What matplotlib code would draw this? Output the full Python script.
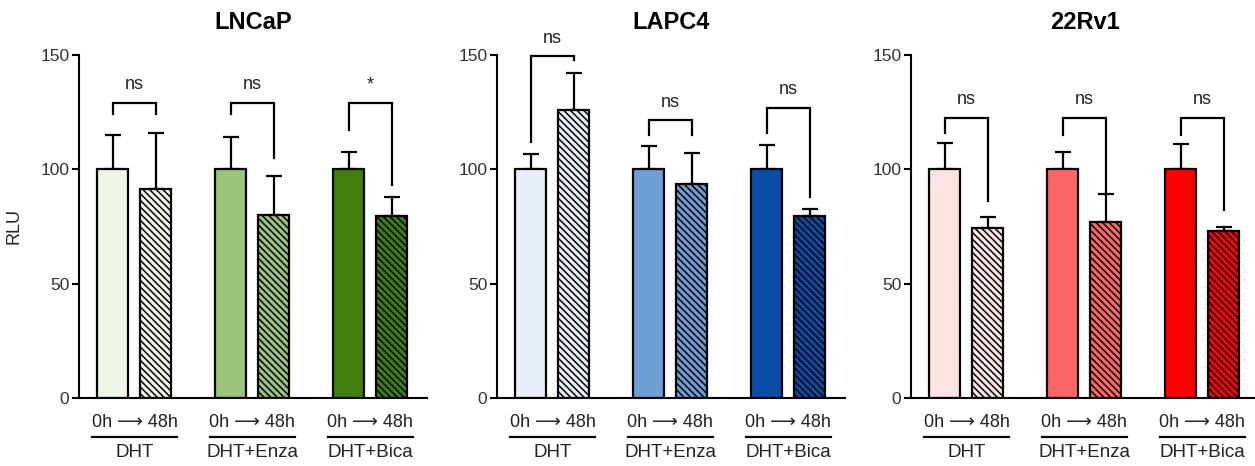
import matplotlib
matplotlib.use("Agg")
import matplotlib.pyplot as plt
import matplotlib.transforms as mtransforms

plt.rcParams['font.family'] = ['Liberation Sans', 'DejaVu Sans']
plt.rcParams['hatch.linewidth'] = 1.1

# data
panels = ["LNCaP", "LAPC4", "22Rv1"]
groups = ["DHT", "DHT+Enza", "DHT+Bica"]
time_label = "0h \u27f6 48h"

means_lncap = [100, 91.5, 100, 80, 100, 79.5]
err_lncap = [15, 24.5, 14, 17, 7.5, 8.5]
means_lapc4 = [100, 126, 100, 93.5, 100, 79.5]
err_lapc4 = [6.5, 16, 10, 13.5, 10.5, 3]
means_22rv1 = [100, 74.5, 100, 77, 100, 73]
err_22rv1 = [11.5, 4.5, 7.5, 12, 11, 2]

# bracket: top, left leg end, right leg end, label
brackets_lncap = [(129, 124, 124, "ns"), (129, 124, 105, "ns"), (129, 117, 93, "*")]
brackets_lapc4 = [(149.5, 112, 148, "ns"), (121.5, 115, 115, "ns"), (127, 116, 88, "ns")]
brackets_22rv1 = [(122.5, 116, 86, "ns"), (122.5, 115, 90, "ns"), (122.5, 115, 82, "ns")]

colors_lncap = ["#eff5e9", "#9bc47a", "#3f7e0b"]
colors_lapc4 = ["#e8eff9", "#6d9fd6", "#0b4ca6"]
colors_22rv1 = ["#fde4e4", "#fe6666", "#ff0000"]

all_means = [means_lncap, means_lapc4, means_22rv1]
all_err = [err_lncap, err_lapc4, err_22rv1]
all_brackets = [brackets_lncap, brackets_lapc4, brackets_22rv1]
all_colors = [colors_lncap, colors_lapc4, colors_22rv1]

W, H = 1255, 466
fig = plt.figure(figsize=(W / 100, H / 100), dpi=100)

ax_left_px = [79, 497, 911]
ax_w_px = 348
ax_bottom_px = 398
ax_h_px = 343

offset = 0.182
bw = 0.263

for p in range(3):
    ax = fig.add_axes([ax_left_px[p] / W, (H - ax_bottom_px) / H, ax_w_px / W, ax_h_px / H])
    means = all_means[p]
    errs = all_err[p]
    cols = all_colors[p]

    for g in range(3):
        for k in range(2):
            i = 2 * g + k
            x = g + (offset if k else -offset)
            ax.bar(x, means[i], width=bw, color=cols[g], edgecolor="black",
                   linewidth=1.6, hatch="\\\\\\\\\\" if k else None, zorder=2)
            ax.errorbar(x, means[i], yerr=[[0], [errs[i]]], fmt="none", ecolor="black",
                        elinewidth=1.6, capsize=5.5, capthick=1.6, zorder=1)

        top, ly, ry, lab = all_brackets[p][g]
        ax.plot([g - offset, g - offset, g + offset, g + offset], [ly, top, top, ry],
                color="black", lw=1.6, clip_on=False, solid_joinstyle="miter")
        ax.text(g, top + 7.9, lab, ha="center", va="center", fontsize=13, color="#222222")

    ax.set_xlim(-0.47, 2.48)
    ax.set_ylim(0, 150)
    ax.set_yticks([0, 50, 100, 150])
    ax.set_xticks([])
    ax.tick_params(axis="y", direction="out", length=5, width=1.5, labelsize=12.5,
                   pad=2, labelcolor="#333333")
    for s in ["top", "right"]:
        ax.spines[s].set_visible(False)
    ax.spines["left"].set_linewidth(1.5)
    ax.spines["bottom"].set_linewidth(1.5)

    trans = mtransforms.blended_transform_factory(ax.transData, ax.transAxes)
    for g in range(3):
        ax.text(g, -0.071, time_label, transform=trans, ha="center", va="center",
                fontsize=13, color="#222222")
        ax.plot([g - 0.36, g + 0.36], [-0.113, -0.113], transform=trans, color="black",
                lw=1.6, clip_on=False)
        ax.text(g, -0.16, groups[g], transform=trans, ha="center", va="center",
                fontsize=13.5, color="#222222")

    ax.text(0.5, 1.094, panels[p], transform=ax.transAxes, ha="center", va="center",
            fontsize=17, fontweight="bold")

    if p == 0:
        ax.set_ylabel("RLU", fontsize=13, color="#222222")
        ax.yaxis.set_label_coords(-0.161, 0.5)

fig.savefig("out.png", dpi=100)
